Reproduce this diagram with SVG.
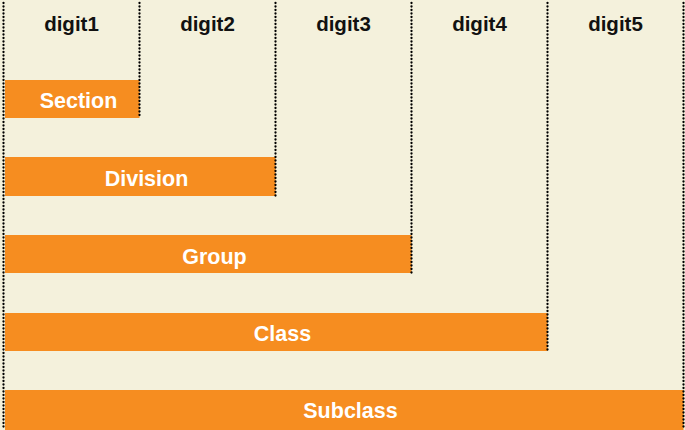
<svg xmlns="http://www.w3.org/2000/svg" width="685" height="430" viewBox="0 0 685 430">
  <style>
    .bar { fill: #f68d20; }
    .lbl { font-family: "Liberation Sans", Arial, sans-serif; font-weight: bold; font-size: 21.5px; fill: #ffffff; text-anchor: middle; }
    .hdr { font-family: "Liberation Sans", Arial, sans-serif; font-weight: bold; font-size: 20.5px; fill: #111111; text-anchor: middle; }
    .dot { stroke: #000000; stroke-width: 2.3; stroke-linecap: round; stroke-dasharray: 0.1 3.4; fill: none; }
  </style>
  <rect x="0" y="0" width="685" height="430" fill="#f4f1dc"/>

  <g id="headers">
    <text class="hdr" x="71.5" y="31">digit1</text>
    <text class="hdr" x="207.5" y="31">digit2</text>
    <text class="hdr" x="343.5" y="31">digit3</text>
    <text class="hdr" x="479.5" y="31">digit4</text>
    <text class="hdr" x="615.5" y="31">digit5</text>
  </g>

  <g id="section">
    <rect class="bar" x="5" y="80" width="134.5" height="38"/>
    <text class="lbl" x="78.5" y="108">Section</text>
  </g>
  <g id="division">
    <rect class="bar" x="5" y="157" width="270.5" height="39"/>
    <text class="lbl" x="146.5" y="186">Division</text>
  </g>
  <g id="group">
    <rect class="bar" x="5" y="235" width="406.5" height="38"/>
    <text class="lbl" x="214.5" y="263.5">Group</text>
  </g>
  <g id="class">
    <rect class="bar" x="5" y="313" width="542.5" height="38"/>
    <text class="lbl" x="282.5" y="341">Class</text>
  </g>
  <g id="subclass">
    <rect class="bar" x="5" y="390" width="678.5" height="40"/>
    <text class="lbl" x="350.5" y="417.5">Subclass</text>
  </g>

  <g id="connectors">
    <line class="dot" x1="3.5" y1="3" x2="3.5" y2="430"/>
    <line class="dot" x1="139.5" y1="3" x2="139.5" y2="118"/>
    <line class="dot" x1="275.5" y1="3" x2="275.5" y2="196"/>
    <line class="dot" x1="411.5" y1="3" x2="411.5" y2="273"/>
    <line class="dot" x1="547.5" y1="3" x2="547.5" y2="351"/>
    <line class="dot" x1="683.5" y1="3" x2="683.5" y2="430"/>
  </g>
</svg>
